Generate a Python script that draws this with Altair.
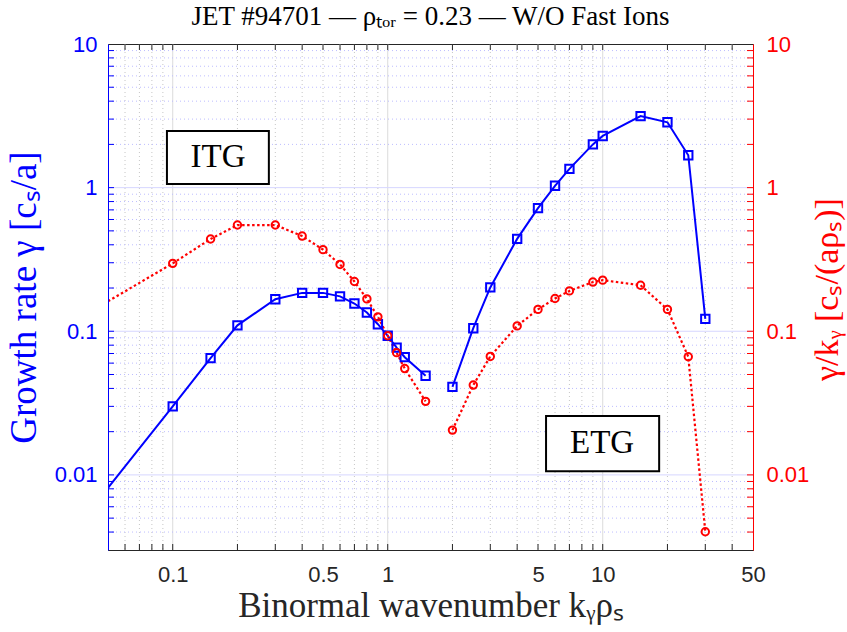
import altair as alt
import pandas as pd

# ---- data ----
ky = [0.025, 0.1, 0.15, 0.2, 0.3, 0.4, 0.5, 0.6, 0.7, 0.8, 0.9, 1.0, 1.1, 1.2, 1.5,
      2.0, 2.5, 3.0, 4.0, 5.0, 6.0, 7.0, 9.0, 10.0, 15.0, 20.0, 25.0, 30.0]
growth = [0.0022, 0.030, 0.065, 0.11, 0.167, 0.185, 0.185, 0.175, 0.156, 0.135, 0.112,
          0.093, 0.077, 0.066, 0.049,
          0.041, 0.105, 0.202, 0.44, 0.72, 1.03, 1.35, 2.0, 2.29, 3.15, 2.85, 1.68, 0.122]
growth_over_ky = [0.088, 0.297, 0.439, 0.549, 0.549, 0.46, 0.37, 0.292, 0.222, 0.168, 0.126,
                  0.093, 0.071, 0.055, 0.0325,
                  0.0205, 0.0422, 0.0668, 0.109, 0.142, 0.169, 0.191, 0.22, 0.227, 0.209,
                  0.142, 0.0665, 0.00402]
branch = ["ITG"] * 15 + ["ETG"] * 13

x_major = [0.1, 1, 10]
x_minor = [0.06, 0.07, 0.08, 0.09, 0.2, 0.3, 0.4, 0.5, 0.6, 0.7, 0.8, 0.9,
           2, 3, 4, 5, 6, 7, 8, 9, 20, 30, 40]
y_major = [0.01, 0.1, 1]
y_minor = [0.004, 0.005, 0.006, 0.007, 0.008, 0.009,
           0.02, 0.03, 0.04, 0.05, 0.06, 0.07, 0.08, 0.09,
           0.2, 0.3, 0.4, 0.5, 0.6, 0.7, 0.8, 0.9,
           2, 3, 4, 5, 6, 7, 8, 9]
x_labels = [0.1, 0.5, 1, 5, 10, 50]
y_labels = [0.01, 0.1, 1, 10]

box_label = ["ITG", "ETG"]
box_x1 = [0.094, 5.45]
box_x2 = [0.28, 18.3]
box_y1 = [2.48, 0.0257]
box_y2 = [1.06, 0.0106]
box_tx = [0.1625, 9.93]
box_ty = [1.63, 0.0166]

W, H = 645, 506
BLUE, RED, DARK = "#0000ff", "#ff0000", "#262626"
SERIF = "Liberation Serif"
SANS = "Liberation Sans"

df = pd.DataFrame({"ky": ky, "g": growth, "r": growth_over_ky, "branch": branch})
boxes = pd.DataFrame({"label": box_label, "x1": box_x1, "x2": box_x2,
                      "y1": box_y1, "y2": box_y2, "tx": box_tx, "ty": box_ty})

XS = alt.Scale(type="log", domain=[0.05, 50], nice=False)
YS = alt.Scale(type="log", domain=[0.003, 10], nice=False)

x_axis = alt.Axis(values=x_labels, format="~g", labelColor=DARK, labelFont=SANS,
                  labelFontSize=22, labelPadding=14, ticks=False, grid=False,
                  domainColor=DARK, labelFlush=False, labelOverlap=False,
                  title="Binormal wavenumber kᵧρₛ", titleColor=DARK,
                  titleFont=SERIF, titleFontSize=35, titleFontWeight="normal",
                  titlePadding=3, zindex=1)
left_axis = alt.Axis(orient="left", values=y_labels, format="~g", labelColor=BLUE,
                     labelFont=SANS, labelFontSize=22, labelPadding=11,
                     ticks=False, grid=False, domainColor=BLUE, labelFlush=False,
                     title="Growth rate γ [cₛ/a]", titleColor=BLUE,
                     titleFont=SERIF, titleFontSize=37, titleFontWeight="normal",
                     titleX=-84, titleY=H / 2, titleBaseline="middle",
                     titleAlign="center", titleAngle=270, zindex=1)
right_axis = alt.Axis(orient="right", values=y_labels, format="~g", labelColor=RED,
                      labelFont=SANS, labelFontSize=22, labelPadding=13,
                      ticks=False, grid=False, domainColor=RED, labelFlush=False,
                      title="γ/kᵧ [cₛ/(aρₛ)]", titleColor=RED, titleAngle=270,
                      titleFont=SERIF, titleFontSize=34, titleFontWeight="normal",
                      titleX=74, titleY=H / 2 - 8, titleBaseline="middle",
                      titleAlign="center", zindex=1)


def vals(v):
    return pd.DataFrame({"v": v})


def X(field):
    return alt.X(field, scale=XS, axis=x_axis)


gx_major = alt.Chart(vals(x_major)).mark_rule(color="#dcdcdc", strokeWidth=1).encode(
    x=X("v:Q"))
gx_minor = alt.Chart(vals(x_minor)).mark_rule(color="#c6c6c6", strokeWidth=1,
                                              strokeDash=[1, 3]).encode(x=X("v:Q"))
gy_major = alt.Chart(vals(y_major)).mark_rule(color="#d6d6ff", strokeWidth=1).encode(
    y=alt.Y("v:Q", scale=YS, axis=None))
gy_minor = alt.Chart(vals(y_minor)).mark_rule(color="#bdbdff", strokeWidth=1,
                                              strokeDash=[1, 3]).encode(
    y=alt.Y("v:Q", scale=YS, axis=None))

all_x = x_major + x_minor
all_y = y_major + y_minor
tb = alt.Chart(vals(all_x)).mark_rule(color=DARK).encode(
    x=X("v:Q"), y=alt.value(H), y2=alt.value(H - 6))
tt = alt.Chart(vals(all_x)).mark_rule(color=DARK).encode(
    x=X("v:Q"), y=alt.value(0), y2=alt.value(6))
tl = alt.Chart(vals(all_y)).mark_rule(color=BLUE).encode(
    y=alt.Y("v:Q", scale=YS, axis=None), x=alt.value(0), x2=alt.value(6))
tr = alt.Chart(vals(all_y)).mark_rule(color=RED).encode(
    y=alt.Y("v:Q", scale=YS, axis=None), x=alt.value(W - 6), x2=alt.value(W))

box_rect = alt.Chart(boxes).mark_rect(fill="white", stroke="black", strokeWidth=2).encode(
    x=X("x1:Q"), x2="x2:Q",
    y=alt.Y("y1:Q", scale=YS, axis=None), y2="y2:Q")
box_text = alt.Chart(boxes).mark_text(font=SERIF, fontSize=33, color="black",
                                      baseline="middle", align="center").encode(
    x=X("tx:Q"), y=alt.Y("ty:Q", scale=YS, axis=None), text="label:N")

blue_line = alt.Chart(df).mark_line(color=BLUE, strokeWidth=2, clip=True).encode(
    x=X("ky:Q"), y=alt.Y("g:Q", scale=YS, axis=left_axis), detail="branch:N")
blue_pts = alt.Chart(df).mark_point(shape="square", size=70, filled=False, color=BLUE,
                                    strokeWidth=2, opacity=1, clip=True).encode(
    x=X("ky:Q"), y=alt.Y("g:Q", scale=YS, axis=None))
red_line = alt.Chart(df).mark_line(color=RED, strokeWidth=2.2, strokeDash=[2.5, 2.5],
                                   clip=True).encode(
    x=X("ky:Q"), y=alt.Y("r:Q", scale=YS, axis=right_axis), detail="branch:N")
red_pts = alt.Chart(df).mark_point(shape="circle", size=55, filled=False, color=RED,
                                   strokeWidth=2, opacity=1, clip=True).encode(
    x=X("ky:Q"), y=alt.Y("r:Q", scale=YS, axis=None))

chart = alt.layer(
    gx_major, gx_minor, gy_major, gy_minor, tb, tt, tl, tr,
    box_rect, box_text, blue_line, red_line, blue_pts, red_pts
).resolve_scale(y="independent").properties(
    width=W, height=H,
    title=alt.Title("JET #94701 — ρₜₒᵣ = 0.23 — W/O Fast Ions", font=SERIF,
                    fontSize=27, fontWeight="normal", color="black", offset=2,
                    anchor="middle"),
    padding={"left": 108, "top": 44, "right": 94, "bottom": 82},
    autosize=alt.AutoSizeParams(type="none"),
).configure_view(stroke=DARK, strokeWidth=1)

chart.save("out.html", embed_options={"renderer": "svg", "actions": False})
